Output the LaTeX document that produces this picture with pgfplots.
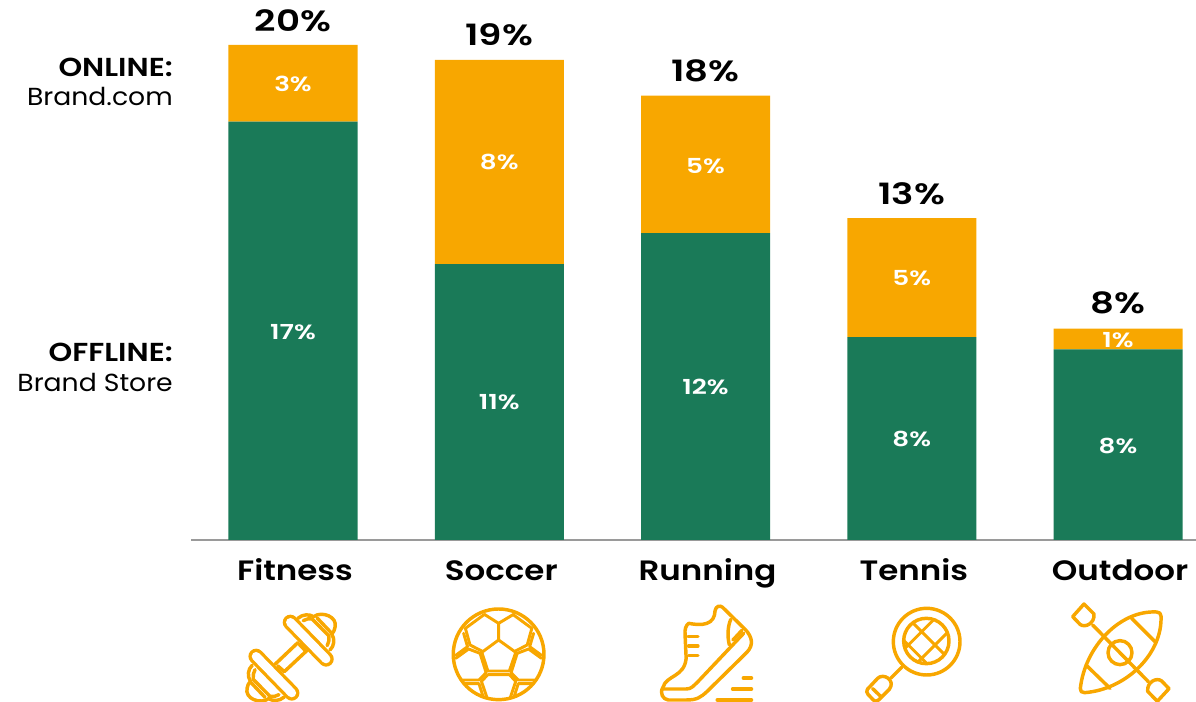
\documentclass[border=0pt]{standalone}
\usepackage{fontspec}
\usepackage{pgfplots}
\pgfplotsset{compat=1.18}
\setmainfont{Poppins}
\newfontfamily\wide[FakeStretch=1.16,BoldFont={Poppins SemiBold}]{Poppins}
\newfontfamily\widenum[FakeStretch=1.27,BoldFont={Poppins SemiBold}]{Poppins}
\newfontfamily\plainwide[FakeStretch=1.08]{Poppins}
\definecolor{brandgreen}{HTML}{1A7A58}
\definecolor{brandorange}{HTML}{F8A700}
\definecolor{axisgray}{HTML}{9A9A9A}
% 1 px = 0.75 pt; the page is 1196 x 702 px
\tikzset{
  side/.style={anchor=base east,inner sep=0pt,font=\plainwide\fontsize{18.5}{18.5}\selectfont,text=black},
  sidebold/.style={side,font=\wide\bfseries\fontsize{19.5}{19.5}\selectfont},
  icon/.style={draw=brandorange,line width=2.6pt,line cap=round,line join=round,fill=none},
  thinicon/.style={icon,line width=2.2pt},
}
\pgfplotsset{
  frame/.style={
    at={(143.25pt,121.5pt)},anchor=south west,
    scale only axis,width=753.75pt,height=405pt,
    clip=false,
    xmin=-0.4945,xmax=4.378,ymin=0,ymax=21.818,
  },
  tags/.style={draw=none,mark=none,only marks,
    point meta=explicit symbolic,
    nodes near coords,
    nodes near coords style={anchor=center,inner sep=0pt,#1},
  },
}
\begin{document}
\begin{tikzpicture}
\path[use as bounding box] (0,0) rectangle (897pt,526.5pt);
\begin{axis}[
  frame,
  ybar stacked,bar width=96.75pt,
  axis x line=bottom,axis y line=left,
  y axis line style={draw=none},ytick=\empty,
  x axis line style={-,draw=axisgray,line width=1.1pt},
  xtick={0,1,2,3,4},xticklabels={Fitness,Soccer,Running,Tennis,Outdoor},
  major tick length=0pt,
  xticklabel style={font=\wide\bfseries\fontsize{21}{21}\selectfont,text=black,anchor=base,yshift=-30.7pt,xshift=1.5pt},
]
\addplot[fill=brandgreen,draw=none] coordinates {(0,16.9) (1,11.15) (2,12.4) (3,8.2) (4,7.7)};
\addplot[fill=brandorange,draw=none] coordinates {(0,3.1) (1,8.25) (2,5.55) (3,4.8) (4,0.84)};
\end{axis}
% value labels sit in a second axis of the same frame, above the bars
\begin{axis}[frame,hide axis]
\addplot[tags={text=white,font=\widenum\bfseries\fontsize{15.5}{15.5}\selectfont,yshift=-0.6pt}] coordinates
  {(0,8.45)[17\%] (1,5.6)[11\%] (2,6.2)[12\%] (3,4.1)[8\%] (4,3.85)[8\%]};
\addplot[tags={text=white,font=\widenum\bfseries\fontsize{15.5}{15.5}\selectfont,yshift=-0.6pt}] coordinates
  {(0,18.45)[3\%] (1,15.3)[8\%] (2,15.15)[5\%] (3,10.6)[5\%] (4,8.1)[1\%]};
\addplot[tags={text=black,font=\widenum\bfseries\fontsize{22}{22}\selectfont,yshift=18pt}] coordinates
  {(0,20)[20\%] (1,19.44)[19\%] (2,17.98)[18\%] (3,13.04)[13\%] (4,8.62)[8\%]};
\end{axis}
% side captions, in page pixels from the top left
\begin{scope}[x=.75pt,y=-.75pt,yshift=526.5pt]
\node[sidebold] at (173,76.5) {ONLINE:};
\node[side] at (173,105.5) {Brand.com};
\node[sidebold] at (173,362) {OFFLINE:};
\node[side] at (173,391.5) {Brand Store};
\end{scope}
% category pictograms, drawn on a sub-pixel grid
\begin{scope}[x=.2679pt,y=-.25pt,shift={(165pt,84pt)}]
 % dumbbell
 \foreach \r in {0,180}{
 \begin{scope}[rotate around={\r:(199,203)}]
  \draw[icon] (218,85) .. controls (232,72) and (250,72) .. (262,80)
     .. controls (285,62) and (330,80) .. (322,112) .. controls (321,120) and (318,126) .. (313,132)
     .. controls (322,148) and (320,168) .. (308,180);
  \draw[icon] (233,92) .. controls (240,87) and (250,85) .. (258,87) -- (305,138)
     .. controls (306,148) and (305,158) .. (300,167);
  \draw[icon] (272,84) -- (311,128);
  \draw[brandorange,line width=11.5pt,line cap=round] (197,97) -- (297,207);
  \draw[white,line width=6.5pt,line cap=round] (197,97) -- (297,207);
 \end{scope}}
 \draw[icon] (155,222) -- (218,158) (180,245) -- (243,182) (222,163) -- (237,180) (162,228) -- (178,243);
 % ball
 \draw[icon] (780,193) ellipse [x radius=127,y radius=136];
 \draw[thinicon] (780,150) -- (828,187) -- (810,243) -- (750,243) -- (733,187) -- cycle;
 \draw[thinicon] (780,150) -- (780,100) -- (740,73) (780,100) -- (822,73);
 \draw[thinicon] (738,75) -- (687,115) -- (700,165) -- (733,183);
 \draw[thinicon] (822,75) -- (873,115) -- (860,165) -- (827,183);
 \draw[thinicon] (682,130) -- (693,170) -- (660,196) (878,130) -- (867,170) -- (900,196);
 \draw[thinicon] (660,205) -- (696,177) -- (728,190) -- (745,248) -- (725,270) -- (678,270);
 \draw[thinicon] (900,205) -- (864,177) -- (832,190) -- (815,248) -- (835,270) -- (882,270);
 \draw[thinicon] (750,254) -- (810,254) -- (828,274) -- (813,322) (750,254) -- (732,274) -- (747,322);
 \draw[thinicon] (685,281) -- (725,281) -- (736,318) (875,281) -- (835,281) -- (824,318);
 % running shoe
 \draw[icon] (1240,292) .. controls (1250,255) and (1300,262) .. (1305,205)
   -- (1302,135) .. controls (1300,118) and (1305,105) .. (1312,100)
   .. controls (1350,108) and (1385,105) .. (1386,62) .. controls (1388,48) and (1400,45) .. (1407,52)
   -- (1470,118) .. controls (1490,140) and (1495,165) .. (1475,187)
   -- (1365,303) .. controls (1345,323) and (1335,330) .. (1305,330)
   -- (1255,330) .. controls (1240,328) and (1230,310) .. (1240,292);
 \draw[icon] (1240,297) -- (1305,297) .. controls (1320,297) and (1325,288) .. (1338,275) -- (1466,130);
 \draw[icon] (1430,88) .. controls (1421,110) and (1420,140) .. (1426,165);
 \draw[icon] (1436,150) -- (1462,120);
 \draw[icon] (1310,140) -- (1338,140) (1312,168) -- (1338,168) (1312,196) -- (1338,196);
 \draw[icon] (1465,264) -- (1488,264) (1435,297) -- (1488,297) (1392,330) -- (1488,330);
\end{scope}
\begin{scope}[x=.25pt,y=-.25pt,shift={(585pt,84pt)}]
 % racket
 \draw[icon] (440,155) circle [radius=100];
 \draw[icon] (439,153) circle [radius=68];
 \begin{scope}
  \clip (439,153) circle [radius=68];
  \draw[thinicon,line cap=butt] (350,130) -- (490,270) (390,90) -- (530,230) (350,200) -- (500,50) (390,240) -- (540,90);
 \end{scope}
 \draw[icon] (365,232) -- (333,264);
 \draw[icon] (262,298) -- (293,265) .. controls (310,248) and (348,270) .. (328,298)
   -- (296,330) .. controls (290,336) and (284,334) .. (280,330) -- (264,313) .. controls (260,308) and (259,303) .. (262,298);
 \draw[icon] (278,296) -- (303,320);
 % kayak
 \draw[icon] (1130,66) .. controls (1020,60) and (915,170) .. (901,295)
   .. controls (900,304) and (905,308) .. (914,308)
   .. controls (1040,298) and (1148,190) .. (1143,78) .. controls (1143,71) and (1138,66) .. (1130,66);
 \draw[icon] (1055,85) -- (1128,158) (918,225) -- (990,295);
 \draw[icon] (1020,188) circle [radius=36];
 \draw[icon] (938,105) -- (1105,275);
 \draw[icon] (878,80) -- (912,42) -- (942,72) .. controls (945,100) and (915,115) .. (900,103) -- cycle;
 \draw[icon] (1167,296) -- (1132,334) -- (1103,304) .. controls (1100,276) and (1130,261) .. (1145,273) -- cycle;
\end{scope}
\end{tikzpicture}
\end{document}
